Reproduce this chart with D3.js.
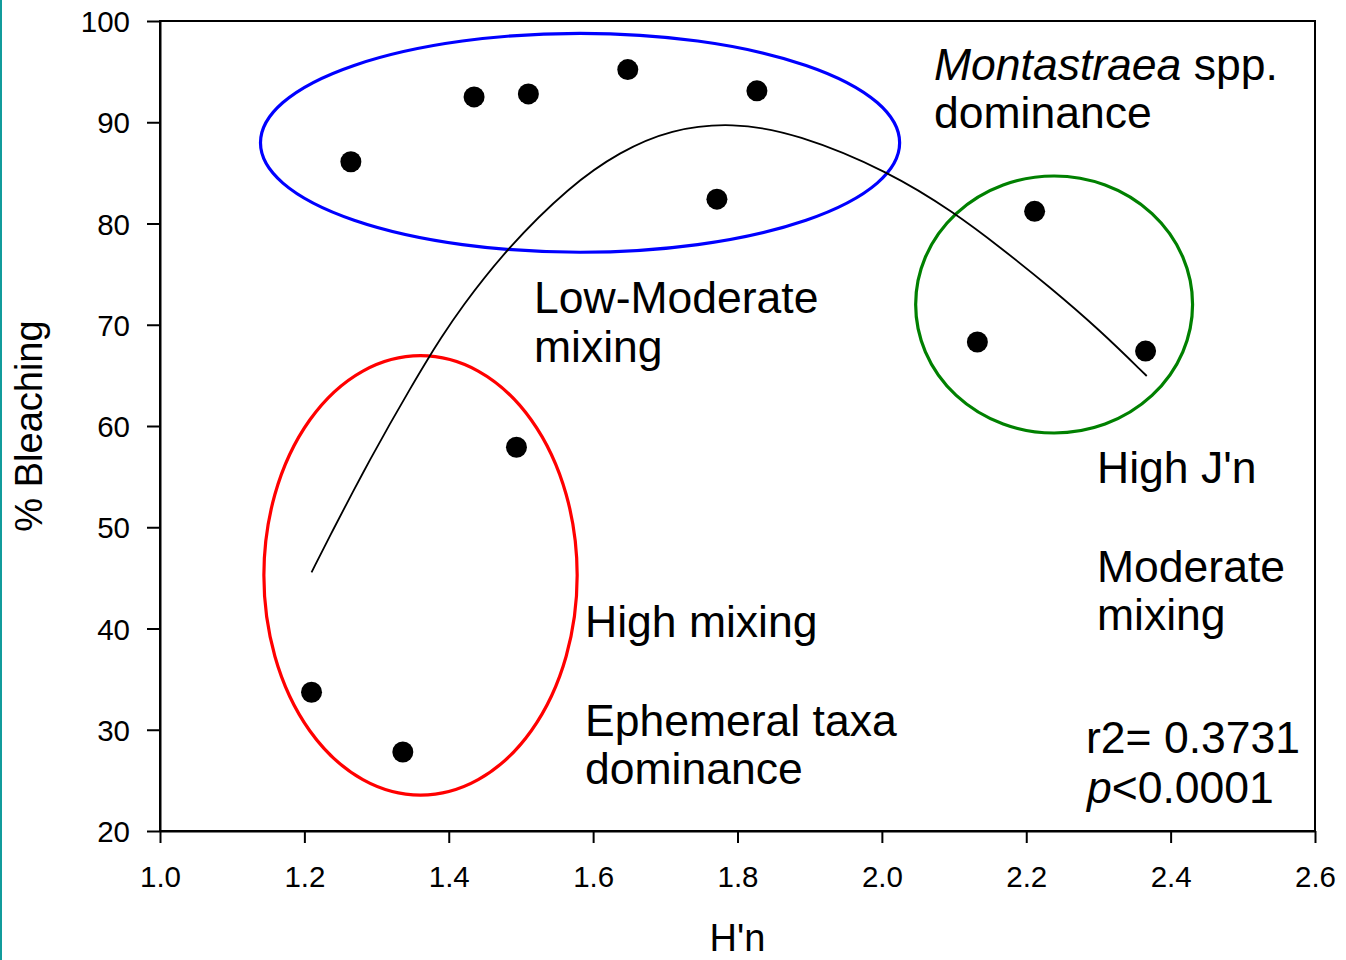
<!DOCTYPE html>
<html>
<head>
<meta charset="utf-8">
<title>% Bleaching vs H'n</title>
<script src="https://cdn.jsdelivr.net/npm/d3@7"></script>
<style>
    body { margin: 0; background: #fff; }
    #chart-area { position: relative; }
    #side-bar { position: absolute; left: 0; top: 0; width: 2px; height: 960px; background: #119c9c; }
    .axis text { font-family: "Liberation Sans", Arial, sans-serif; font-size: 29.5px; fill: #000; }
    .axis path, .axis line { stroke: #000; stroke-width: 2px; }
    .label { font-family: "Liberation Sans", Arial, sans-serif; fill: #000; }
</style>
</head>
<body>
<div id="chart-area"><div id="side-bar"></div></div>
<script>

// site values: H'n and % bleaching
var diversity = [1.2644, 1.4351, 1.5103, 1.6480, 1.8269, 1.7715, 2.2116, 2.1323, 2.3653, 1.4938, 1.2099, 1.3364];
var bleaching = [86.1, 92.5, 92.8, 95.2, 93.1, 82.4, 81.2, 68.3, 67.4, 57.9, 33.7, 27.8];

// fitted curve
var fitX = [1.2099, 1.2399, 1.2676, 1.2907, 1.3184, 1.3461, 1.3714, 1.3877, 1.4153, 1.4804, 1.5677,
            1.6369, 1.7075, 1.7922, 1.8822, 2.0110, 2.1010, 2.1633, 2.2326, 2.3018, 2.3669];
var fitY = [45.55, 49.78, 53.57, 56.64, 60.20, 63.64, 66.67, 68.51, 71.52, 77.54, 83.70,
            87.10, 89.30, 90.00, 88.90, 85.09, 81.04, 77.68, 73.73, 69.48, 64.94];

// groups drawn as ellipses (centre and half-axes in data units)
var groupNames = ["Low-Moderate mixing", "High mixing", "Moderate mixing"];
var groupCx = [1.5819, 1.3609, 2.2386];
var groupCy = [87.97, 45.25, 72.0];
var groupRx = [0.4427, 0.2170, 0.1918];
var groupRy = [10.81, 21.70, 12.69];

// axis ticks
var xTicks = [1.0, 1.2, 1.4, 1.6, 1.8, 2.0, 2.2, 2.4, 2.6];
var yTicks = [20, 30, 40, 50, 60, 70, 80, 90, 100];

var groupColor = d3.scaleOrdinal()
    .domain(groupNames)
    .range(["#0000ff", "#ff0000", "#008000"]);


ScatterChart = function(_parentElement){
    this.parentElement = _parentElement;
    this.initVis();
};

ScatterChart.prototype.initVis = function(){
    var vis = this;

    vis.margin = { top: 21, right: 31, bottom: 129, left: 160 };
    vis.width = 1346 - vis.margin.left - vis.margin.right;
    vis.height = 960 - vis.margin.top - vis.margin.bottom;

    vis.svg = d3.select("#" + vis.parentElement).append("svg")
        .attr("width", 1346)
        .attr("height", 960)
        .style("display", "block")
        .append("g")
        .attr("transform", "translate(" + vis.margin.left + "," + vis.margin.top + ")");

    vis.x = d3.scaleLinear()
        .domain([1.0, 2.6])
        .range([0, vis.width]);

    vis.y = d3.scaleLinear()
        .domain([20, 100])
        .range([vis.height, 0]);

    vis.xAxis = d3.axisBottom(vis.x)
        .tickValues(xTicks)
        .tickFormat(d3.format(".1f"))
        .tickSizeInner(12)
        .tickSizeOuter(0)
        .tickPadding(23);

    vis.yAxis = d3.axisLeft(vis.y)
        .tickValues(yTicks)
        .tickSizeInner(13)
        .tickSizeOuter(0)
        .tickPadding(17);

    // frame round the plot
    vis.svg.append("rect")
        .attr("width", vis.width)
        .attr("height", vis.height)
        .attr("fill", "none")
        .attr("stroke", "#000")
        .attr("stroke-width", 2);

    vis.svg.append("g")
        .attr("class", "x-axis axis")
        .attr("transform", "translate(0," + vis.height + ")")
        .call(vis.xAxis);

    vis.svg.append("g")
        .attr("class", "y-axis axis")
        .call(vis.yAxis)
        .selectAll("text")
        .attr("dy", "0.36em");

    // axis titles
    vis.svg.append("text")
        .attr("class", "label")
        .attr("text-anchor", "middle")
        .attr("x", vis.width / 2)
        .attr("y", 951 - vis.margin.top)
        .style("font-size", "38px")
        .text("H'n");

    vis.svg.append("text")
        .attr("class", "label")
        .attr("text-anchor", "middle")
        .attr("transform", "translate(" + (42 - vis.margin.left) + "," + (426 - vis.margin.top) + ") rotate(-90)")
        .style("font-size", "38px")
        .text("% Bleaching");

    vis.updateVis();
};

ScatterChart.prototype.updateVis = function(){
    var vis = this;

    // group ellipses
    vis.svg.selectAll(".group")
        .data(groupNames)
        .enter()
        .append("ellipse")
        .attr("class", "group")
        .attr("cx", function(d, i) { return vis.x(groupCx[i]); })
        .attr("cy", function(d, i) { return vis.y(groupCy[i]); })
        .attr("rx", function(d, i) { return vis.x(groupCx[i] + groupRx[i]) - vis.x(groupCx[i]); })
        .attr("ry", function(d, i) { return vis.y(groupCy[i] - groupRy[i]) - vis.y(groupCy[i]); })
        .attr("fill", "none")
        .attr("stroke", function(d) { return groupColor(d); })
        .attr("stroke-width", 3.2);

    // regression curve (basis spline smooths out the reading noise)
    vis.line = d3.line()
        .x(function(d) { return vis.x(d[0]); })
        .y(function(d) { return vis.y(d[1]); })
        .curve(d3.curveBasis);

    vis.svg.append("path")
        .attr("class", "fit")
        .attr("d", vis.line(d3.zip(fitX, fitY)))
        .attr("fill", "none")
        .attr("stroke", "#000")
        .attr("stroke-width", 1.8);

    // sites
    vis.svg.selectAll(".dot")
        .data(d3.zip(diversity, bleaching))
        .enter()
        .append("circle")
        .attr("class", "dot")
        .attr("cx", function(d) { return vis.x(d[0]); })
        .attr("cy", function(d) { return vis.y(d[1]); })
        .attr("r", 10.5)
        .attr("fill", "#000");

    // annotations (pixel positions on the page)
    var notes = vis.svg.append("g")
        .attr("class", "label")
        .attr("transform", "translate(" + -vis.margin.left + "," + -vis.margin.top + ")")
        .style("font-size", "44.5px");

    var t = notes.append("text").attr("x", 934).attr("y", 80);
    t.append("tspan").style("font-style", "italic").text("Montastraea");
    t.append("tspan").text(" spp.");
    notes.append("text").attr("x", 934).attr("y", 128).text("dominance");

    notes.append("text").attr("x", 534).attr("y", 313).text("Low-Moderate");
    notes.append("text").attr("x", 534).attr("y", 362).text("mixing");

    notes.append("text").attr("x", 585).attr("y", 637).text("High mixing");
    notes.append("text").attr("x", 585).attr("y", 736).text("Ephemeral taxa");
    notes.append("text").attr("x", 585).attr("y", 784).text("dominance");

    notes.append("text").attr("x", 1097).attr("y", 483).text("High J'n");
    notes.append("text").attr("x", 1097).attr("y", 582).text("Moderate");
    notes.append("text").attr("x", 1097).attr("y", 630).text("mixing");

    notes.append("text").attr("x", 1086).attr("y", 753).text("r2= 0.3731");
    var p = notes.append("text").attr("x", 1087).attr("y", 803);
    p.append("tspan").style("font-style", "italic").text("p");
    p.append("tspan").text("<0.0001");
};

var chart = new ScatterChart("chart-area");

</script>
</body>
</html>
